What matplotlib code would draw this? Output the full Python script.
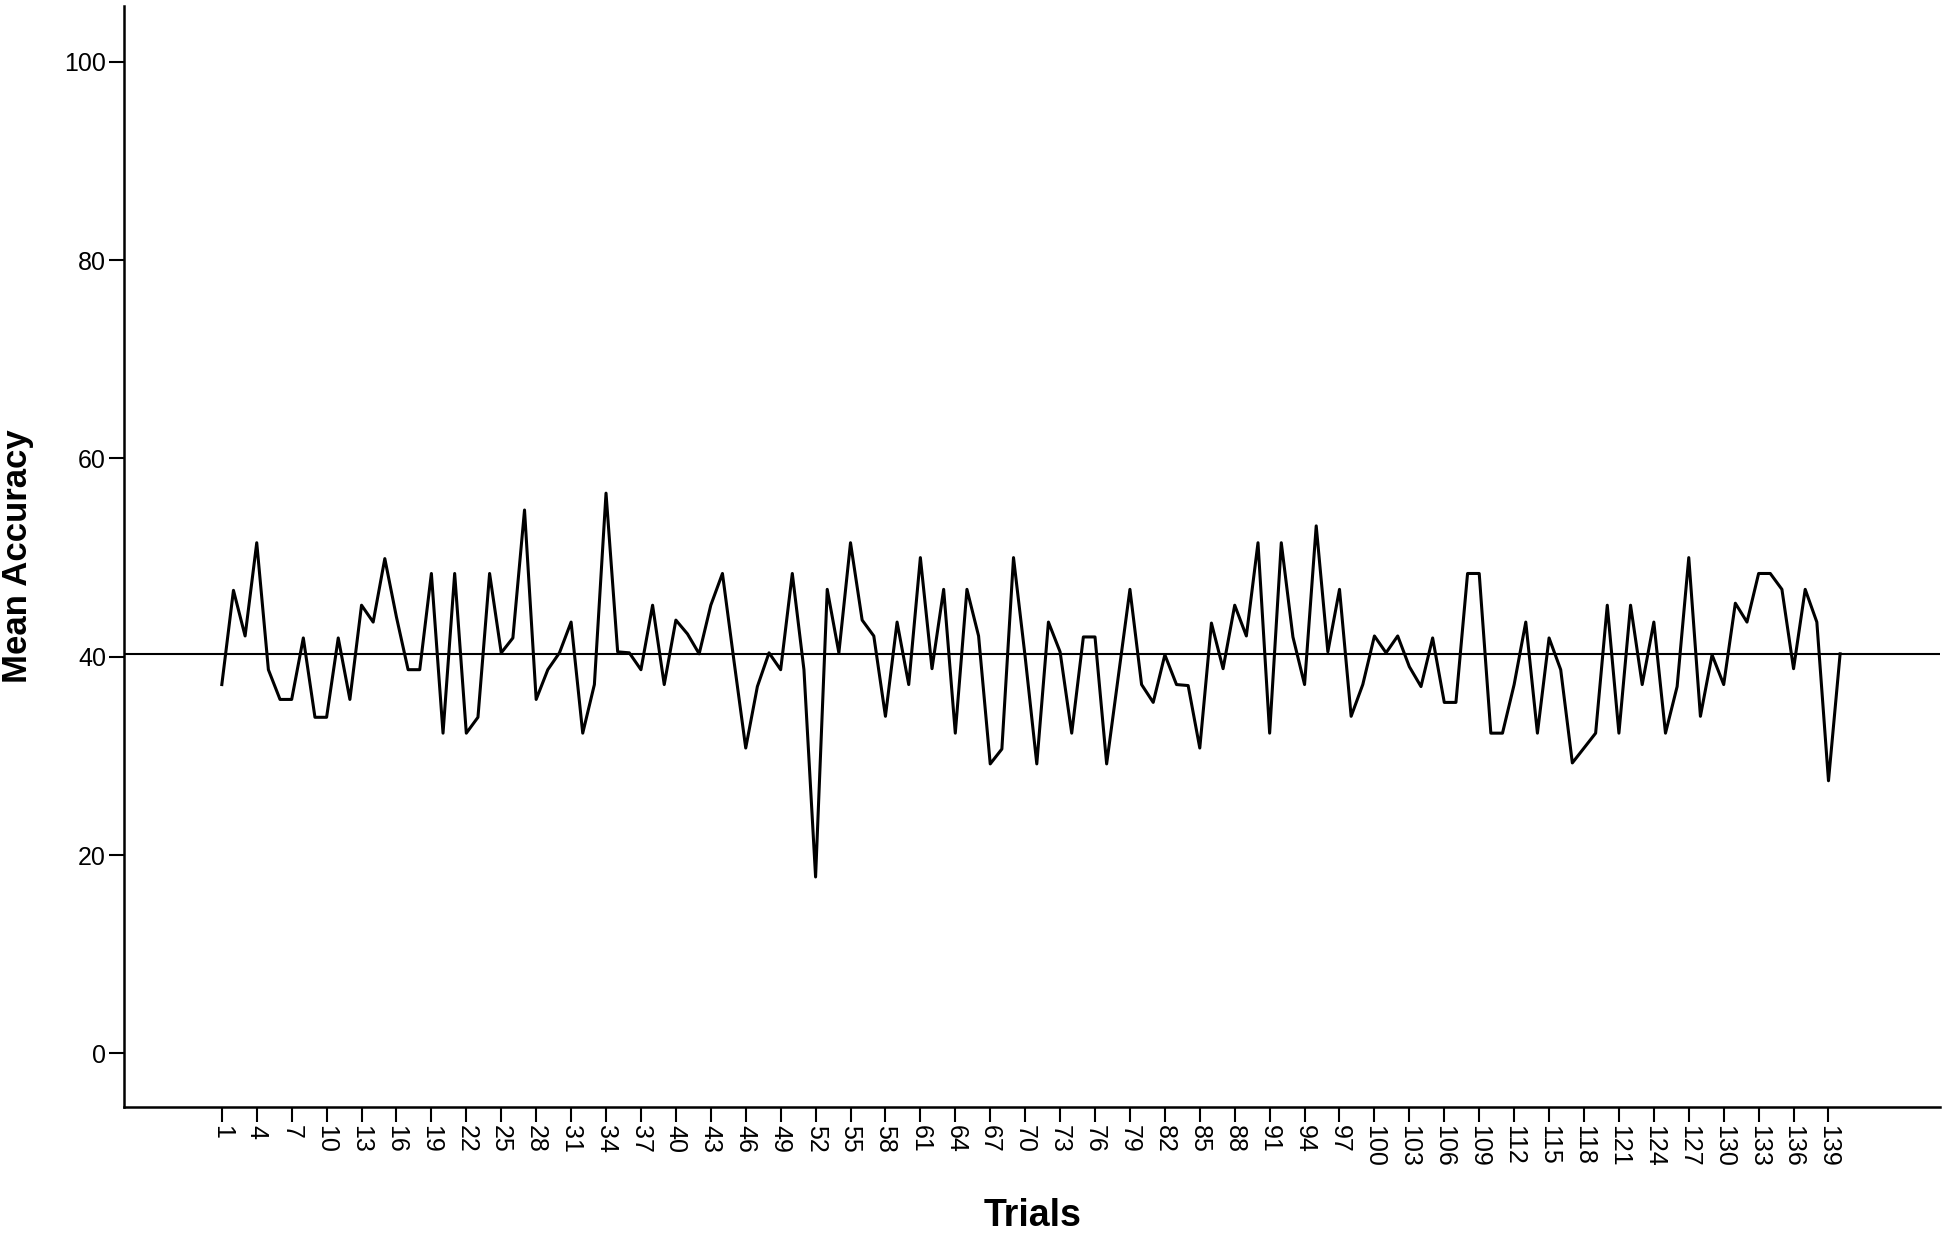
import numpy as np
import matplotlib
matplotlib.use("Agg")
import matplotlib.pyplot as plt

plt.rcParams['font.family'] = ['Liberation Sans', 'DejaVu Sans']

trials = np.arange(1, 141)
accuracy = [
    37.2, 46.7, 42.1, 51.5, 38.7, 35.7, 35.7, 41.9, 33.9, 33.9,
    41.9, 35.7, 45.2, 43.5, 49.9, 44.0, 38.7, 38.7, 48.4, 32.3,
    48.4, 32.3, 33.9, 48.4, 40.4, 41.9, 54.8, 35.7, 38.7, 40.4,
    43.5, 32.3, 37.2, 56.5, 40.5, 40.4, 38.7, 45.2, 37.2, 43.7,
    42.3, 40.3, 45.2, 48.4, 39.5, 30.8, 37.0, 40.4, 38.7, 48.4,
    38.7, 17.8, 46.8, 40.4, 51.5, 43.7, 42.1, 34.0, 43.5, 37.2,
    50.0, 38.8, 46.8, 32.3, 46.8, 42.1, 29.2, 30.7, 50.0, 40.0,
    29.2, 43.5, 40.5, 32.3, 42.0, 42.0, 29.2, 38.0, 46.8, 37.2,
    35.4, 40.2, 37.2, 37.1, 30.8, 43.4, 38.8, 45.2, 42.1, 51.5,
    32.3, 51.5, 42.0, 37.2, 53.2, 40.5, 46.8, 34.0, 37.2, 42.1,
    40.4, 42.1, 39.0, 37.0, 41.9, 35.4, 35.4, 48.4, 48.4, 32.3,
    32.3, 37.2, 43.5, 32.3, 41.9, 38.7, 29.3, 30.8, 32.3, 45.2,
    32.3, 45.2, 37.2, 43.5, 32.3, 37.0, 50.0, 34.0, 40.2, 37.2,
    45.4, 43.5, 48.4, 48.4, 46.8, 38.8, 46.8, 43.5, 27.5, 40.3,
]
mean_line = 40.33
xtick_trials = np.arange(1, 141, 3)
ytick_values = [0, 20, 40, 60, 80, 100]

fig = plt.figure(figsize=(19.5, 12.39), dpi=100)
ax = fig.add_axes([0.0636, 0.1065, 0.9314, 0.8885])

ax.plot(trials, accuracy, color='black', linewidth=2.2)
ax.axhline(mean_line, color='black', linewidth=1.5)

ax.set_xlim(-7.4, 148.6)
ax.set_ylim(-5.4, 105.6)

ax.set_xticks(xtick_trials)
ax.set_xticklabels([str(t) for t in xtick_trials], rotation=270, fontsize=18)
ax.set_yticks(ytick_values)
ax.set_yticklabels([str(v) for v in ytick_values], fontsize=18)
ax.tick_params(axis='both', direction='out', length=11, width=1.5, pad=2)

for side in ['top', 'right']:
    ax.spines[side].set_visible(False)
for side in ['left', 'bottom']:
    ax.spines[side].set_linewidth(1.8)

ax.set_xlabel('Trials', fontsize=27, fontweight='bold', labelpad=22)
ax.set_ylabel('Mean Accuracy', fontsize=25, fontweight='bold', labelpad=22)

fig.savefig('out.png', dpi=100)
